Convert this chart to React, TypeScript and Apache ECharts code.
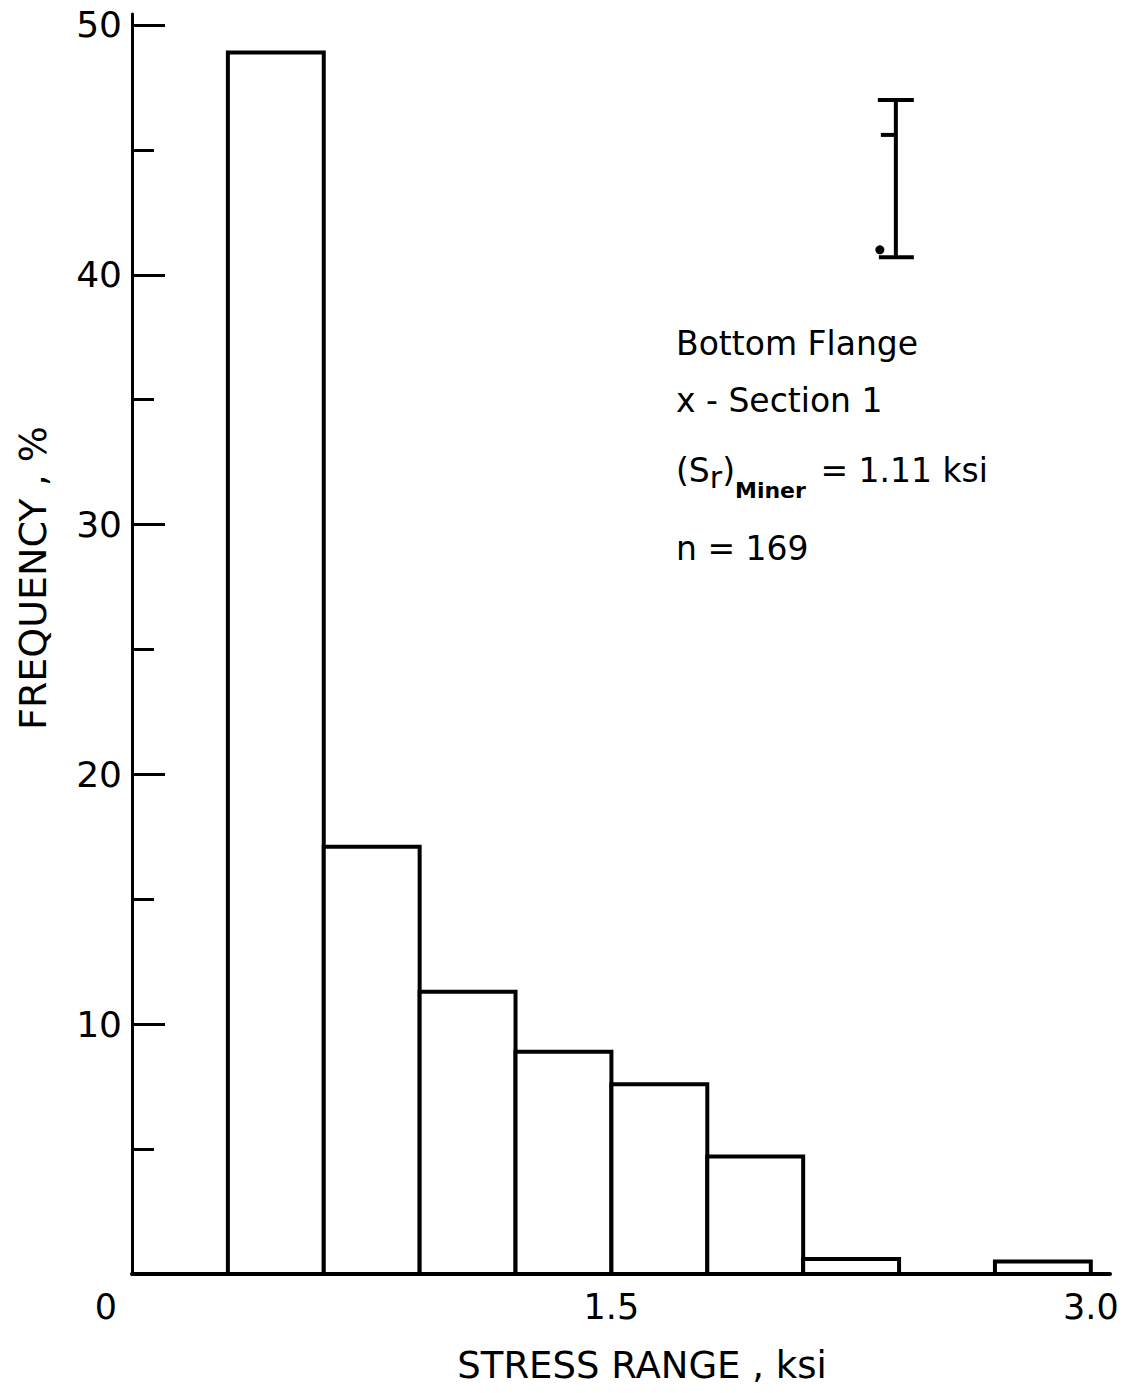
import React, { useEffect, useRef } from "react";
import * as echarts from "echarts";

// Histogram bins (ksi) and frequency (%)
const binStart = [0.3, 0.6, 0.9, 1.2, 1.5, 1.8, 2.1, 2.4, 2.7];
const binEnd = [0.6, 0.9, 1.2, 1.5, 1.8, 2.1, 2.4, 2.7, 3.0];
const frequency = [48.9, 17.1, 11.3, 8.9, 7.6, 4.7, 0.6, 0, 0.5];

const xTickLabels = [0, 1.5, 3.0];
const yMajorTicks = [0, 10, 20, 30, 40, 50];
const yLabelValues = [10, 20, 30, 40, 50];
const yMinorTicks = [5, 15, 25, 35, 45];

// Scale bar glyph (x, top, bottom, inner tick, dot x, dot y)
const scaleBar = [[2.39, 47.0, 40.7, 45.6, 2.34, 41.0]];

const annotations = [
  "Bottom Flange",
  "x - Section 1",
  "{a|(S}{r|r}{a|)}{s|Miner}{a| = 1.11 ksi}",
  "n = 169",
];

const FONT = "DejaVu Sans";

export default function App() {
  const ref = useRef<HTMLDivElement>(null);
  useEffect(() => {
    if (!ref.current) return;
    const chart = echarts.init(ref.current, undefined, { renderer: "svg" });
    const data = binStart.map((s, i) => [s, binEnd[i], frequency[i]]);
    const annY = [343, 400, 470, 548];
    chart.setOption({
      animation: false,
      backgroundColor: "#fff",
      grid: { left: 132, right: 28, top: 14, bottom: 119 },
      xAxis: {
        type: "value",
        min: 0,
        max: 3.06,
        interval: 1.5,
        name: "STRESS RANGE , ksi",
        nameLocation: "middle",
        nameGap: 73,
        nameTextStyle: { fontFamily: FONT, fontSize: 37, color: "#000", padding: [0, 0, 0, 42] },
        axisLine: { show: true, onZero: false, lineStyle: { color: "#000", width: 4 } },
        axisTick: { show: false },
        splitLine: { show: false },
        axisLabel: {
          customValues: xTickLabels,
          margin: 15,
          fontFamily: FONT,
          fontSize: 35,
          color: "#000",
          formatter: (v: number) => (v === 0 ? "{z|0}" : v.toFixed(1)),
          rich: { z: { fontFamily: FONT, fontSize: 35, color: "#000", padding: [0, 52, 0, 0] } },
        },
      },
      yAxis: [
        {
          type: "value",
          min: 0,
          max: 50.44,
          interval: 10,
          name: "FREQUENCY , %",
          nameLocation: "middle",
          nameGap: 80,
          nameTextStyle: { fontFamily: FONT, fontSize: 38, color: "#000", padding: [0, 0, 0, 132] },
          axisLine: { show: true, onZero: false, lineStyle: { color: "#000", width: 3 } },
          axisTick: { show: true, inside: true, length: 33, customValues: yMajorTicks, lineStyle: { color: "#000", width: 3 } },
          axisLabel: { customValues: yLabelValues, margin: 10, fontFamily: FONT, fontSize: 36, color: "#000" },
          splitLine: { show: false },
        },
        {
          type: "value",
          min: 0,
          max: 50.44,
          interval: 10,
          position: "left",
          axisLine: { show: false },
          axisTick: { show: true, inside: true, length: 22, customValues: yMinorTicks, lineStyle: { color: "#000", width: 3 } },
          axisLabel: { show: false },
          splitLine: { show: false },
        },
      ],
      series: [
        {
          type: "custom",
          xAxisIndex: 0,
          yAxisIndex: 0,
          data,
          renderItem: (params: any, api: any) => {
            const h = api.value(2);
            if (!(h > 0)) return null;
            const p0 = api.coord([api.value(0), h]);
            const p1 = api.coord([api.value(1), 0]);
            return {
              type: "rect",
              shape: { x: p0[0], y: p0[1], width: p1[0] - p0[0], height: p1[1] - p0[1] },
              style: { fill: "#fff", stroke: "#000", lineWidth: 4 },
            };
          },
          z: 1,
        },
        {
          type: "custom",
          xAxisIndex: 0,
          yAxisIndex: 0,
          data: scaleBar,
          renderItem: (params: any, api: any) => {
            const x = api.value(0);
            const top = api.coord([x, api.value(1)]);
            const bot = api.coord([x, api.value(2)]);
            const mid = api.coord([x, api.value(3)]);
            const dot = api.coord([api.value(4), api.value(5)]);
            const st = { stroke: "#000", lineWidth: 4 };
            return {
              type: "group",
              children: [
                { type: "line", shape: { x1: top[0], y1: top[1], x2: bot[0], y2: bot[1] }, style: st },
                { type: "line", shape: { x1: top[0] - 18, y1: top[1], x2: top[0] + 18, y2: top[1] }, style: st },
                { type: "line", shape: { x1: bot[0] - 17, y1: bot[1], x2: bot[0] + 18, y2: bot[1] }, style: st },
                { type: "line", shape: { x1: mid[0] - 15, y1: mid[1], x2: mid[0], y2: mid[1] }, style: st },
                { type: "circle", shape: { cx: dot[0], cy: dot[1], r: 4.5 }, style: { fill: "#000" } },
              ],
            };
          },
          z: 2,
        },
      ],
      graphic: annotations.map((t, i) => ({
        type: "text",
        x: 676,
        y: annY[i],
        style: {
          text: t,
          fontFamily: FONT,
          fontSize: 33,
          fill: "#000",
          verticalAlign: "middle",
          align: "left",
          rich: {
            a: { fontFamily: FONT, fontSize: 33, lineHeight: 38, fill: "#000" },
            r: { fontFamily: FONT, fontSize: 30, lineHeight: 34, padding: [14, 0, 0, 0], fill: "#000" },
            s: { fontFamily: FONT, fontSize: 22, lineHeight: 26, padding: [40, 4, 0, 0], fill: "#000", fontWeight: "bold" },
          },
        },
      })),
    });
    return () => chart.dispose();
  }, []);
  return (
    <div
      ref={ref}
      style={{ position: "fixed", left: 0, top: 0, width: 1138, height: 1393, background: "#fff" }}
    />
  );
}
